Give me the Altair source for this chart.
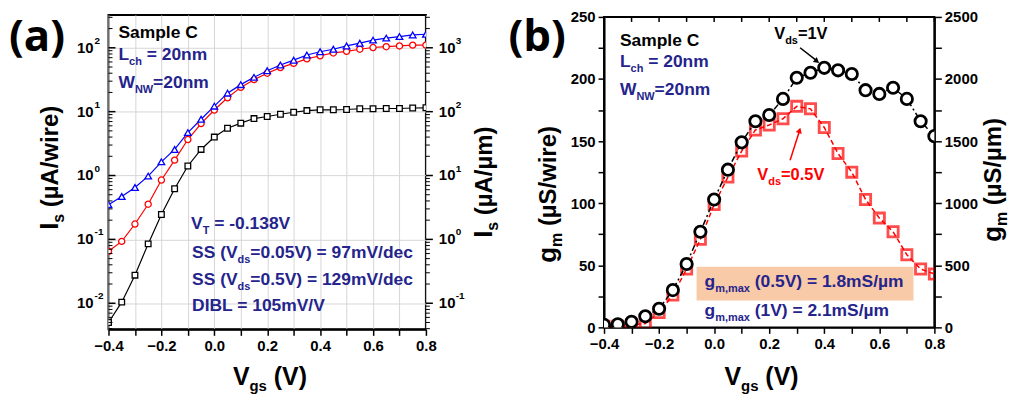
import altair as alt
import pandas as pd

# ---------------- data ----------------
vgs = [-0.40, -0.35, -0.30, -0.25, -0.20, -0.15, -0.10, -0.05, 0.00, 0.05, 0.10, 0.15,
       0.20, 0.25, 0.30, 0.35, 0.40, 0.45, 0.50, 0.55, 0.60, 0.65, 0.70, 0.75, 0.80]

is_vds005 = [0.0050, 0.0104, 0.0275, 0.085, 0.245, 0.62, 1.41, 2.56, 4.0, 5.5, 6.6, 7.8,
             8.4, 9.1, 9.8, 10.4, 10.7, 10.7, 10.8, 11.1, 11.1, 11.2, 11.2, 11.4, 11.5]
is_vds05 = [0.065, 0.093, 0.174, 0.355, 0.85, 1.74, 3.66, 6.5, 10.6, 16.5, 24, 31.7,
            40, 49, 57, 67, 75, 83, 88, 95, 101, 104, 107, 110, 110]
is_vds1 = [0.35, 0.47, 0.65, 0.98, 1.64, 2.56, 4.7, 7.6, 12.2, 19.5, 26.5, 34.5,
           43.8, 53.7, 64, 77, 86.7, 95, 107, 118, 132, 142, 150, 159, 163]

gm_vds1 = [2, 2.5, 4.5, 9, 15, 30, 51, 77, 103, 127, 149, 166,
           171, 184, 201, 205, 209, 207, 204, 191, 188, 193, 184, 166, 154]
gm_vds05 = [1, 1, 2, 3, 12, 26, 47, 71, 99, 121, 142, 159,
            163, 168, 178, 176, 161, 140, 125, 103, 88, 77, 58.5, 47, 43]

series_a = ["0.05", "0.5", "1"]
x_ticks = [-0.4, -0.3, -0.2, -0.1, 0.0, 0.1, 0.2, 0.3, 0.4, 0.5, 0.6, 0.7, 0.8]
decades = [0.01, 0.1, 1, 10, 100]
exp_left = ["-2", "-1", "0", "1", "2"]
exp_right = ["-1", "0", "1", "2", "3"]
minor_ticks = [0.004, 0.005, 0.006, 0.007, 0.008, 0.009,
               0.02, 0.03, 0.04, 0.05, 0.06, 0.07, 0.08, 0.09,
               0.2, 0.3, 0.4, 0.5, 0.6, 0.7, 0.8, 0.9,
               2, 3, 4, 5, 6, 7, 8, 9,
               20, 30, 40, 50, 60, 70, 80, 90,
               200, 300]
gm_ticks_left = [0, 25, 50, 75, 100, 125, 150, 175, 200, 225, 250]
gm_ticks_right = [0, 250, 500, 750, 1000, 1250, 1500, 1750, 2000, 2250, 2500]

FONT = "Liberation Sans"
NAVY = "#24248c"

# ---------------- helpers ----------------
WID = {' ': 278, '(': 333, ')': 333, ',': 278, '-': 333, '.': 278, '/': 278, '=': 584,
       'A': 722, 'B': 722, 'C': 722, 'D': 722, 'I': 278, 'L': 611, 'N': 722, 'S': 667,
       'T': 611, 'V': 667, 'W': 944, 'a': 556, 'c': 556, 'd': 611, 'e': 556, 'g': 611,
       'h': 611, 'i': 278, 'l': 278, 'm': 889, 'n': 611, 'p': 611, 'r': 389, 's': 556,
       'w': 778, 'x': 556, 'µ': 611, 't': 333}
for _d in "0123456789":
    WID[_d] = 556


def tw(s, fs):
    return sum(WID.get(c, 556) for c in s) * fs / 1000.0


ONE = alt.Data(values=[{"k": 1}])


def rich(parts, x0, y0, color, rot=False):
    out = []
    pos = 0.0
    for text, fs, shift in parts:
        lead = len(text) - len(text.lstrip(' '))
        trail = len(text) - len(text.rstrip(' '))
        core = text.strip(' ')
        pos += lead * WID[' '] * fs / 1000.0
        if core:
            if rot:
                x, y = x0 + shift, y0 - pos
            else:
                x, y = x0 + pos, y0 + shift
            out.append(
                alt.Chart(ONE).mark_text(
                    text=core, font=FONT, fontSize=fs, fontWeight="bold", color=color,
                    align="left", baseline="alphabetic", angle=270 if rot else 0
                ).encode(x=alt.value(x), y=alt.value(y))
            )
        pos += tw(core, fs) + trail * WID[' '] * fs / 1000.0
    return out


def big_label(t, x, y):
    return alt.Chart(ONE).mark_text(
        text=t, font="Open Sans", fontSize=44, fontWeight="bold", color="black",
        align="left", baseline="alphabetic"
    ).encode(x=alt.value(x), y=alt.value(y))


LBL = dict(font=FONT, fontWeight="bold", color="black")

# ---------------- panel (a) ----------------
WA, HA = 319, 316
df_a = pd.DataFrame({
    "vgs": vgs * 3,
    "Is": is_vds005 + is_vds05 + is_vds1,
    "series": [series_a[0]] * len(vgs) + [series_a[1]] * len(vgs) + [series_a[2]] * len(vgs),
})

XS_A = alt.Scale(domain=[-0.4, 0.8], nice=False, zero=False)
YS_A = alt.Scale(type="log", domain=[0.0039, 327], nice=False)
XAX_A = alt.Axis(values=x_ticks, grid=True, title=None, tickSize=6, labelFlush=False,
                 labelExpr="abs(round(datum.value*10)) % 2 == 0 ? format(datum.value, '.1f') : ''")
YAX_A = alt.Axis(values=decades, grid=True, ticks=False, labels=False, domain=False, title=None)


def YA(f):
    return alt.Y(f, scale=YS_A, axis=YAX_A)


color_a = alt.Color("series:N", scale=alt.Scale(domain=series_a, range=["#000000", "#ff0000", "#0000ff"]), legend=None)
shape_a = alt.Shape("series:N", scale=alt.Scale(domain=series_a, range=["square", "circle", "triangle-up"]), legend=None)
size_a = alt.Size("series:N", scale=alt.Scale(domain=series_a, range=[32, 44, 105]), legend=None)

base_a = alt.Chart(df_a).encode(x=alt.X("vgs:Q", scale=XS_A, axis=XAX_A), y=YA("Is:Q"), color=color_a)
lines_a = base_a.mark_line(strokeWidth=1.2, clip=True)
pts_a = base_a.mark_point(filled=True, fill="white", fillOpacity=1, strokeWidth=1.3, clip=True).encode(
    shape=shape_a, size=size_a, stroke=alt.Stroke("series:N", scale=alt.Scale(domain=series_a, range=["#000000", "#ff0000", "#0000ff"]), legend=None))

minor_df = pd.DataFrame({"v": minor_ticks})
dec_df = pd.DataFrame({"v": decades, "el": exp_left, "er": exp_right})
ticks_a = [
    alt.Chart(minor_df).mark_rule(color="black", strokeWidth=1).encode(y=YA("v:Q"), x=alt.value(0), x2=alt.value(4)),
    alt.Chart(dec_df).mark_rule(color="black", strokeWidth=1.5).encode(y=YA("v:Q"), x=alt.value(0), x2=alt.value(7)),
    alt.Chart(minor_df).mark_rule(color="black", strokeWidth=1).encode(y=YA("v:Q"), x=alt.value(WA), x2=alt.value(WA + 4)),
    alt.Chart(dec_df).mark_rule(color="black", strokeWidth=1.5).encode(y=YA("v:Q"), x=alt.value(WA), x2=alt.value(WA + 7)),
    alt.Chart(dec_df).mark_text(text="10", align="right", baseline="middle", fontSize=15, **LBL).encode(y=YA("v:Q"), x=alt.value(-15)),
    alt.Chart(dec_df).mark_text(align="left", baseline="middle", fontSize=10, dy=-7, **LBL).encode(y=YA("v:Q"), x=alt.value(-14), text="el:N"),
    alt.Chart(dec_df).mark_text(text="10", align="left", baseline="middle", fontSize=15, **LBL).encode(y=YA("v:Q"), x=alt.value(WA + 13)),
    alt.Chart(dec_df).mark_text(align="left", baseline="middle", fontSize=10, dy=-7, **LBL).encode(y=YA("v:Q"), x=alt.value(WA + 30), text="er:N"),
]

FS = 17.5
SUB = 11
texts_a = []
texts_a += rich([("Sample C", FS, 0)], 10, 23, "black")
texts_a += rich([("L", FS, 0), ("ch", SUB, 5), (" = 20nm", FS, 0)], 10, 45, NAVY)
texts_a += rich([("W", FS, 0), ("NW", SUB, 5), ("=20nm", FS, 0)], 10, 73, NAVY)
texts_a += rich([("V", FS, 0), ("T", SUB, 5), (" = -0.138V", FS, 0)], 83, 215.5, NAVY)
texts_a += rich([("SS (V", FS, 0), ("ds", SUB, 5), ("=0.05V) = 97mV/dec", FS, 0)], 84, 244, NAVY)
texts_a += rich([("SS (V", FS, 0), ("ds", SUB, 5), ("=0.5V) = 129mV/dec", FS, 0)], 84, 271, NAVY)
texts_a += rich([("DIBL = 105mV/V", FS, 0)], 84, 298, NAVY)
# axis titles
texts_a += rich([("V", 25, 0), ("gs", 15, 6), (" (V)", 25, 0)], 125, 372, "black")
texts_a += rich([("I", 26, 0), ("s", 16, 6), (" (µA/wire)", 24, 0)], -51, 216, "black", rot=True)
texts_a += rich([("I", 26, 0), ("s", 16, 6), (" (µA/µm)", 24, 0)], 385, 224, "black", rot=True)
texts_a.append(big_label("(a)", -100, 36))

panel_a = alt.layer(lines_a, pts_a, *ticks_a, *texts_a).properties(width=WA, height=HA)

# ---------------- panel (b) ----------------
WB, HB = 332, 312
df_b1 = pd.DataFrame({"vgs": vgs, "gm": gm_vds1})
df_b05 = pd.DataFrame({"vgs": vgs, "gm": gm_vds05})

XS_B = alt.Scale(domain=[-0.4, 0.8], nice=False, zero=False)
YS_B = alt.Scale(domain=[0, 250], nice=False)
XAX_B = alt.Axis(values=x_ticks, grid=False, title=None, tickSize=6, labelFlush=False,
                 labelExpr="abs(round(datum.value*10)) % 2 == 0 ? format(datum.value, '.1f') : ''")
YAX_B = alt.Axis(values=gm_ticks_left, grid=False, title=None, tickSize=6, labelFlush=False,
                 labelExpr="datum.value % 50 == 0 ? format(datum.value, 'd') : ''")

XB = alt.X("vgs:Q", scale=XS_B, axis=XAX_B)
YB = alt.Y("gm:Q", scale=YS_B, axis=YAX_B)

red_line = alt.Chart(df_b05).mark_line(color="#ff0000", strokeWidth=1.5, strokeDash=[5, 3], clip=True).encode(x=XB, y=YB)
red_pts = alt.Chart(df_b05).mark_point(shape="square", filled=False, color="#ff0000", strokeWidth=2.8, size=105, clip=True).encode(x=XB, y=YB)
blk_line = alt.Chart(df_b1).mark_line(color="black", strokeWidth=1.5, strokeDash=[6, 3, 2, 3], clip=True).encode(x=XB, y=YB)
blk_pts = alt.Chart(df_b1).mark_point(shape="circle", filled=True, fill="white", fillOpacity=1, stroke="black", strokeWidth=2.8, size=130, clip=True).encode(x=XB, y=YB)

top_ticks = alt.Chart(pd.DataFrame({"t": x_ticks})).mark_rule(color="black", strokeWidth=1.5).encode(
    x=alt.X("t:Q", scale=XS_B, axis=XAX_B), y=alt.value(0), y2=alt.value(5))

box = alt.Chart(ONE).mark_rect(color="#f9caa7").encode(x=alt.value(93), x2=alt.value(311), y=alt.value(251), y2=alt.value(285))

arrows = [
    alt.Chart(ONE).mark_rule(color="black", strokeWidth=1.5).encode(x=alt.value(197), y=alt.value(31), x2=alt.value(213), y2=alt.value(43.5)),
    alt.Chart(ONE).mark_point(shape="triangle-up", filled=True, color="black", size=40, angle=128, opacity=1).encode(x=alt.value(214), y=alt.value(44.5)),
    alt.Chart(ONE).mark_rule(color="#ff0000", strokeWidth=1.5).encode(x=alt.value(187), y=alt.value(144), x2=alt.value(196), y2=alt.value(116)),
    alt.Chart(ONE).mark_point(shape="triangle-up", filled=True, color="#ff0000", size=40, angle=17, opacity=1).encode(x=alt.value(196.5), y=alt.value(114)),
]

texts_b = []
texts_b += rich([("Sample C", FS, 0)], 16, 29, "black")
texts_b += rich([("L", FS, 0), ("ch", SUB, 5), (" = 20nm", FS, 0)], 16, 50.5, NAVY)
texts_b += rich([("W", FS, 0), ("NW", SUB, 5), ("=20nm", FS, 0)], 16, 78, NAVY)
texts_b += rich([("V", 16.5, 0), ("ds", SUB, 5), ("=1V", 16.5, 0)], 171, 22, "black")
texts_b += rich([("V", 16.5, 0), ("ds", SUB, 5), ("=0.5V", 16.5, 0)], 154, 164, "#ff0000")
texts_b += rich([("g", FS, 0), ("m,max", SUB, 5), (" (0.5V) = 1.8mS/µm", FS, 0)], 101, 271, NAVY)
texts_b += rich([("g", FS, 0), ("m,max", SUB, 5), (" (1V) = 2.1mS/µm", FS, 0)], 101, 301, NAVY)
texts_b += rich([("V", 25, 0), ("gs", 15, 6), (" (V)", 25, 0)], 121, 370, "black")
texts_b += rich([("g", 26, 0), ("m", 16, 6), (" (µS/wire)", 24, 0)], -48, 247, "black", rot=True)
texts_b += rich([("g", 26, 0), ("m", 16, 6), (" (µS/µm)", 24, 0)], 399, 226, "black", rot=True)
texts_b.append(big_label("(b)", -96, 34))

inner_b = alt.layer(box, red_line, red_pts, blk_line, blk_pts, top_ticks, *arrows, *texts_b)
right_b = alt.Chart(pd.DataFrame({"r": gm_ticks_right})).mark_tick(opacity=0).encode(
    y=alt.Y("r:Q", scale=alt.Scale(domain=[0, 2500], nice=False),
            axis=alt.Axis(orient="right", values=gm_ticks_right, title=None, tickSize=7, labelFlush=False,
                          labelExpr="datum.value % 500 == 0 ? format(datum.value, 'd') : ''")))
panel_b = alt.layer(inner_b, right_b).resolve_scale(y="independent").properties(width=WB, height=HB)

chart = alt.hconcat(panel_a, panel_b, spacing=179, bounds="flush", center=True, padding=0).configure_view(
    stroke="black", strokeWidth=2
).configure_axis(
    labelFont=FONT, labelFontSize=15, labelFontWeight="bold", labelColor="black",
    domainColor="black", domainWidth=2, tickColor="black", tickWidth=1.5,
    gridColor="#d6d6d6", gridWidth=1, labelPadding=3
)

chart.save("out.html", embed_options={"renderer": "svg", "actions": False})
